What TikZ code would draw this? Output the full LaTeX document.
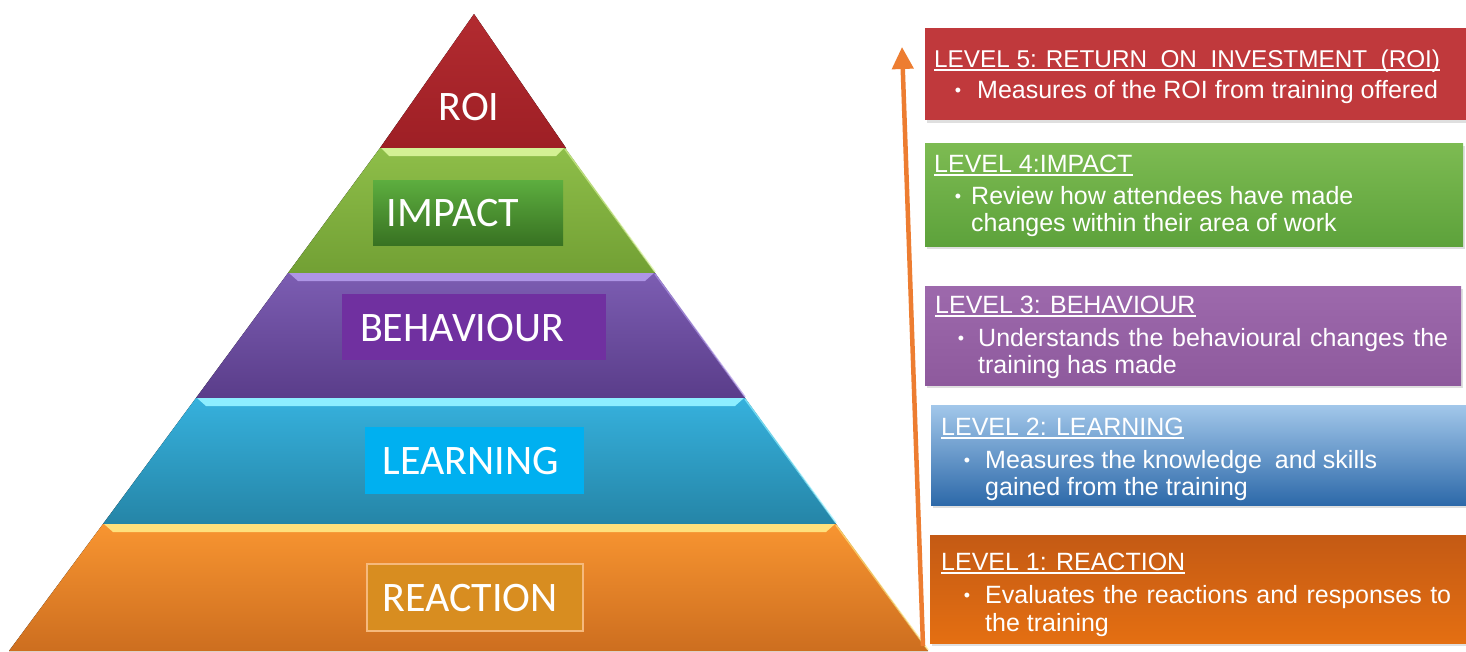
\documentclass[tikz,border=0pt]{standalone}
\usepackage{fontspec}
\setmainfont{Liberation Sans}
\newfontfamily\pyrfont{Carlito}
\usetikzlibrary{arrows.meta,shadows}

% pyramid colours
\definecolor{roiTop}{HTML}{B22B30}
\definecolor{roiBot}{HTML}{9E1F25}
\definecolor{impTop}{HTML}{8EBE49}
\definecolor{impBot}{HTML}{72A034}
\definecolor{impRim}{HTML}{D3F194}
\definecolor{behTop}{HTML}{7C5DB2}
\definecolor{behBot}{HTML}{5A3D8A}
\definecolor{behRim}{HTML}{AE95E6}
\definecolor{lrnTop}{HTML}{36B1DD}
\definecolor{lrnBot}{HTML}{2585A7}
\definecolor{lrnRim}{HTML}{8DEEFF}
\definecolor{reaTop}{HTML}{F89531}
\definecolor{reaBot}{HTML}{CD6E1F}
\definecolor{reaRim}{HTML}{FFE07C}
% label boxes
\definecolor{impBoxTop}{HTML}{5DAE3F}
\definecolor{impBoxBot}{HTML}{387222}
\definecolor{behBox}{HTML}{7030A0}
\definecolor{lrnBox}{HTML}{00B0F0}
\definecolor{reaBox}{HTML}{D88D20}
\definecolor{reaBoxEdge}{HTML}{F6B97C}
% level boxes
\definecolor{lvFive}{HTML}{C0393C}
\definecolor{lvFourTop}{HTML}{7DBB52}
\definecolor{lvFourBot}{HTML}{5DA23B}
\definecolor{lvThreeTop}{HTML}{9D69AC}
\definecolor{lvThreeBot}{HTML}{8E5A9D}
\definecolor{lvTwoTop}{HTML}{A2C7EA}
\definecolor{lvTwoMid}{HTML}{5C94CF}
\definecolor{lvTwoBot}{HTML}{2D69A9}
\definecolor{lvOneTop}{HTML}{C45A14}
\definecolor{lvOneMid}{HTML}{E9741C}
\definecolor{lvOneBot}{HTML}{E46F12}
\definecolor{arrowOrange}{HTML}{ED7D31}

\begin{document}
\begin{tikzpicture}[x=1pt,y=-1pt,
  pyrlabel/.style={font=\pyrfont\fontsize{42}{42}\selectfont, text=white, inner sep=0pt},
  labelbox/.style={draw=none, inner sep=0pt},
  levelbox/.style={draw=none, inner sep=0pt, anchor=north west,
    drop shadow={shadow xshift=1.5pt, shadow yshift=-2.5pt, opacity=0.25}},
  boxline/.style={anchor=base west, inner sep=0pt, text=white, font=\fontsize{25}{30}\selectfont},
  bulletmark/.style={anchor=base, inner sep=0pt, text=white, font=\fontsize{18}{18}\selectfont},
  underlined/.style={draw=white, line width=1.3pt},
  rimedge/.style={line width=1.6pt, opacity=0.7},
  arrowline/.style={draw=arrowOrange, line width=4.5pt, -{Triangle[length=22pt,width=21pt]}}
]
\useasboundingbox (0,0) rectangle (1466,651);
\fill[white] (0,0) rectangle (1466,651);

% ---------- pyramid ----------
% top: return on investment
\fill[top color=roiTop, bottom color=roiBot] (474,14) -- (566,148) -- (380,148) -- cycle;
% impact layer
\fill[top color=impTop, bottom color=impBot] (380,148) -- (565,148) -- (655,273) -- (288,273) -- cycle;
\fill[impRim] (381,148) -- (564,148) -- (556,156) -- (389,156) -- cycle;
\draw[rimedge, impRim] (565,149) -- (655,272);
% behaviour layer
\fill[top color=behTop, bottom color=behBot] (288,273) -- (655,273) -- (745,398) -- (196,398) -- cycle;
\fill[behRim] (289,273) -- (654,273) -- (645,281) -- (298,281) -- cycle;
\draw[rimedge, behRim] (655,274) -- (745,397);
% learning layer
\fill[top color=lrnTop, bottom color=lrnBot] (196,398) -- (745,398) -- (836,524) -- (103,524) -- cycle;
\fill[lrnRim] (197,398) -- (744,398) -- (735,406) -- (206,406) -- cycle;
\draw[rimedge, lrnRim] (745,399) -- (836,523);
% reaction layer
\fill[top color=reaTop, bottom color=reaBot] (103,524) -- (836,524) -- (928,651) -- (9,651) -- cycle;
\fill[reaRim] (104,524) -- (835,524) -- (826,532) -- (113,532) -- cycle;
\draw[rimedge, reaRim] (836,525) -- (928,650);

% pyramid labels
\node[pyrlabel] (roi) at (469,107) {ROI};

\node[labelbox, top color=impBoxTop, bottom color=impBoxBot,
      minimum width=190pt, minimum height=65pt] (impactbox) at (468,212.5) {};
\node[pyrlabel] (impact) at (453,213) {IMPACT};

\node[labelbox, fill=behBox, minimum width=264pt, minimum height=66pt] (behbox) at (474,327) {};
\node[pyrlabel] (behaviour) at (462,328) {BEHAVIOUR};

\node[labelbox, fill=lrnBox, minimum width=219pt, minimum height=67pt] (lrnbox) at (474.5,460.5) {};
\node[pyrlabel] (learning) at (471,461) {LEARNING};

\node[labelbox, fill=reaBox, draw=reaBoxEdge, line width=2pt,
      minimum width=216pt, minimum height=67pt] (reabox) at (474.5,597) {};
\node[pyrlabel] (reaction) at (470,598) {REACTION};

% ---------- rising arrow ----------
\coordinate (arrowfoot) at (923,646);
\coordinate (arrowtip) at (902,47);
\draw[arrowline] (arrowfoot) -- (arrowtip);

% ---------- level boxes ----------
\node[levelbox, fill=lvFive, minimum width=541pt, minimum height=92pt] (lv5) at (925,28) {};
\node[levelbox, top color=lvFourTop, bottom color=lvFourBot, minimum width=538pt, minimum height=103pt] (lv4) at (925,143) {};
\node[levelbox, top color=lvThreeTop, bottom color=lvThreeBot, minimum width=536pt, minimum height=99pt] (lv3) at (925,286) {};
\node[levelbox, top color=lvTwoTop, middle color=lvTwoMid, bottom color=lvTwoBot, minimum width=535pt, minimum height=100pt] (lv2) at (931,405) {};
\node[levelbox, top color=lvOneTop, middle color=lvOneMid, bottom color=lvOneBot, minimum width=536pt, minimum height=108pt] (lv1) at (930,535) {};

% level 5
\node[boxline, font=\fontsize{24.3}{30}\selectfont] (t5) at (934,67) {LEVEL 5: RETURN\ \ ON\ \ INVESTMENT\ \ (ROI)};
\draw[underlined] ([yshift=-3pt]t5.base west) -- ([yshift=-3pt]t5.base east);
\node[bulletmark] (b5) at (958,96) {\textbullet};
\node[boxline] (l5a) at (977,98) {Measures of the ROI from training offered};

% level 4
\node[boxline] (t4) at (934,172) {LEVEL 4:IMPACT};
\draw[underlined] ([yshift=-3pt]t4.base west) -- ([yshift=-3pt]t4.base east);
\node[bulletmark] (b4) at (958,202) {\textbullet};
\node[boxline] (l4a) at (971,204) {Review how attendees have made};
\node[boxline] (l4b) at (971,231) {changes within their area of work};

% level 3
\node[boxline] (t3) at (935,313) {LEVEL 3: BEHAVIOUR};
\draw[underlined] ([yshift=-3pt]t3.base west) -- ([yshift=-3pt]t3.base east);
\node[bulletmark] (b3) at (961,344) {\textbullet};
\node[boxline] (l3a) at (978,346) {\makebox[470pt][s]{Understands the behavioural changes the}};
\node[boxline] (l3b) at (978,373) {training has made};

% level 2
\node[boxline] (t2) at (941,435) {LEVEL 2: LEARNING};
\draw[underlined] ([yshift=-3pt]t2.base west) -- ([yshift=-3pt]t2.base east);
\node[bulletmark] (b2) at (967,466) {\textbullet};
\node[boxline] (l2a) at (985,468) {\makebox[392pt][s]{Measures the knowledge\ \ and skills}};
\node[boxline] (l2b) at (985,495) {gained from the training};

% level 1
\node[boxline] (t1) at (941,570) {LEVEL 1: REACTION};
\draw[underlined] ([yshift=-3pt]t1.base west) -- ([yshift=-3pt]t1.base east);
\node[bulletmark] (b1) at (967,601) {\textbullet};
\node[boxline] (l1a) at (985,603) {\makebox[466pt][s]{Evaluates the reactions and responses to}};
\node[boxline] (l1b) at (985,631) {the training};
\end{tikzpicture}
\end{document}
